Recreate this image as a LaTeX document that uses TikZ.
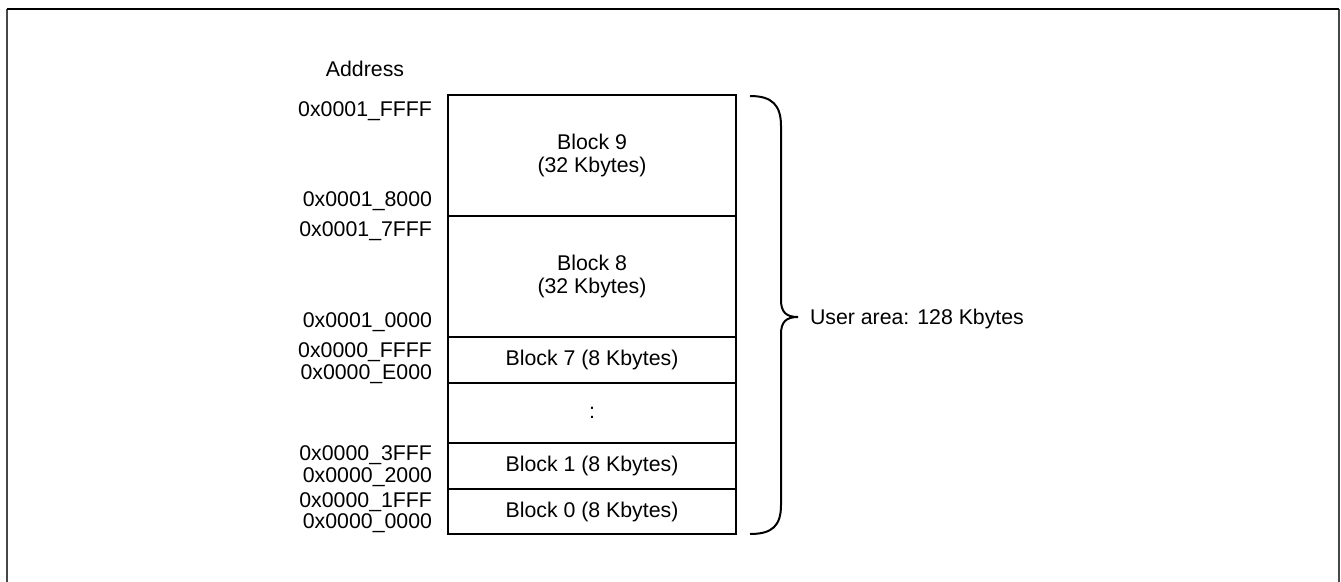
\documentclass[tikz,border=0pt]{standalone}
\usepackage{fontspec}
\setmainfont{Liberation Sans}
\begin{document}
\begin{tikzpicture}[x=1pt,y=-1pt,
  every node/.style={font=\fontsize{21.3pt}{22.3pt}\selectfont, inner sep=0pt, outer sep=0pt},
  blk/.style={draw=black, line width=2pt, minimum width=288pt, align=center},
  addr/.style={anchor=base east},
  ln/.style={draw=black, line width=2pt},
  frameside/.style={draw=black!72, line width=2pt},
  frametop/.style={draw=black, line width=2pt}]
\useasboundingbox (0,0) rectangle (1341,581);
% outer frame (bottom edge lies outside the picture)
\coordinate (fbl) at (7,590);
\coordinate (ftl) at (7,9);
\coordinate (ftr) at (1338.7,9);
\coordinate (fbr) at (1338.7,590);
\draw[frameside] (fbl) -- (ftl);
\draw[frameside] (ftr) -- (fbr);
\draw[frametop] (ftl) -- (ftr);
% blocks
\node[blk, minimum height=121pt] (b9) at (592,155.5) {Block 9\\(32 Kbytes)};
\node[blk, minimum height=121pt] (b8) at (592,276.5) {Block 8\\(32 Kbytes)};
\node[blk, minimum height=46pt] (b7) at (592,360) {Block 7 (8 Kbytes)};
\node[blk, minimum height=60pt] (bd) at (592,413) {:};
\node[blk, minimum height=46pt] (b1) at (592,466) {Block 1 (8 Kbytes)};
\node[blk, minimum height=45pt] (b0) at (592,511.5) {Block 0 (8 Kbytes)};
% address labels
\node[anchor=base] (hdr) at (365,76) {Address};
\node[addr] (a9h) at (432,116.5) {0x0001\_FFFF};
\node[addr] (a9l) at (432,206.5) {0x0001\_8000};
\node[addr] (a8h) at (432,236.7) {0x0001\_7FFF};
\node[addr] (a8l) at (432,327.3) {0x0001\_0000};
\node[addr] (a7h) at (432,357.3) {0x0000\_FFFF};
\node[addr] (a7l) at (432,379.3) {0x0000\_E000};
\node[addr] (a1h) at (432,460) {0x0000\_3FFF};
\node[addr] (a1l) at (432,482) {0x0000\_2000};
\node[addr] (a0h) at (432,507.3) {0x0000\_1FFF};
\node[addr] (a0l) at (432,528.3) {0x0000\_0000};
% brace
\coordinate (brt) at (750,96);
\coordinate (brb) at (750,534);
\coordinate (tip) at (798,317);
\draw[ln] (brt) .. controls (772,96) and (781,105) .. (781,126)
  -- (781,300) .. controls (781,312) and (786,317) .. (tip)
  .. controls (786,317) and (781,322) .. (781,334)
  -- (781,505) .. controls (781,526) and (772,534) .. (brb);
\node[anchor=base west] (ua) at (810,324.3) {User area: 128 Kbytes};
\end{tikzpicture}
\end{document}
